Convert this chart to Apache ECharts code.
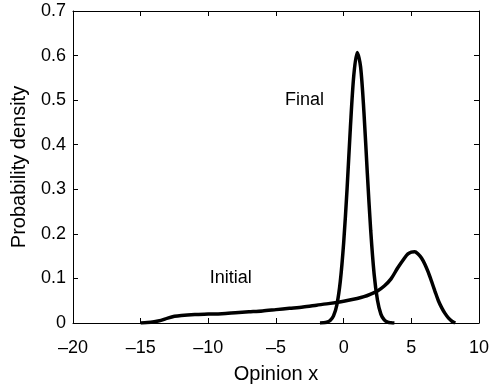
<!DOCTYPE html>
<html>
<head>
<meta charset="utf-8">
<script src="https://cdn.jsdelivr.net/npm/echarts@6/dist/echarts.min.js"></script>
<style>
  html, body { margin: 0; padding: 0; background: #fff; }
  #chart { width: 492px; height: 389px; }
</style>
</head>
<body>
<div id="chart"></div>
<script>
// opinion densities: [x, density]
var initialX = [-15, -14.5, -14, -13.5, -13, -12.5, -12, -11, -10, -9, -8, -7, -6, -5, -4, -3, -2, -1, 0, 1, 1.5, 2, 2.5, 3, 3.5, 4, 4.5, 4.75, 5, 5.25, 5.5, 5.75, 6, 6.25, 6.5, 6.75, 7, 7.25, 7.5, 7.75, 8, 8.25]
var initialY = [0, 0.001, 0.003, 0.006, 0.011, 0.015, 0.017, 0.019, 0.020, 0.021, 0.023, 0.025, 0.027, 0.030, 0.033, 0.036, 0.040, 0.044, 0.049, 0.055, 0.059, 0.065, 0.072, 0.083, 0.099, 0.124, 0.146, 0.155, 0.159, 0.160, 0.155, 0.146, 0.132, 0.114, 0.093, 0.071, 0.050, 0.034, 0.021, 0.011, 0.004, 0]

var finalX = [-1.75, -1.5, -1.25, -1, -0.75, -0.5, -0.25, 0, 0.25, 0.5, 0.75, 1, 1.25, 1.5, 1.75, 2, 2.25, 2.5, 2.75, 3, 3.25, 3.5, 3.75]
var finalY = [0, 0.0004, 0.0016, 0.0054, 0.016, 0.041, 0.093, 0.18, 0.30, 0.44, 0.556, 0.607, 0.575, 0.472, 0.335, 0.207, 0.11, 0.051, 0.020, 0.007, 0.002, 0.0006, 0]

var xTicks = [-20, -15, -10, -5, 0, 5, 10]
var yTicks = [0, 0.1, 0.2, 0.3, 0.4, 0.5, 0.6, 0.7]

var annoText = ['Final', 'Initial']
var annoX = [-2.9, -8.35]
var annoY = [0.5, 0.1]

function pairs(xs, ys) {
  return xs.map(function(x, i) { return [x, ys[i]] })
}

var font = 'Liberation Sans, Arial, Helvetica, sans-serif'

function fmtX(v) {
  return String(v).replace('-', '\u2013')
}

var chart = echarts.init(document.getElementById('chart'))

var axisCommon = {
  axisLine: { show: true, onZero: false, lineStyle: { color: '#000', width: 1 } },
  axisTick: { show: true, inside: true, length: 5, lineStyle: { color: '#000' } },
  splitLine: { show: false }
}

chart.setOption({
  animation: false,
  grid: { left: 73, right: 11, top: 11, bottom: 65 },
  xAxis: [
    Object.assign({
      type: 'value',
      min: xTicks[0],
      max: xTicks[xTicks.length - 1],
      interval: 5,
      name: 'Opinion x',
      nameLocation: 'middle',
      nameGap: 41,
      nameTextStyle: { fontFamily: font, fontSize: 20, color: '#000' },
      axisLabel: { fontFamily: font, fontSize: 18, color: '#000', margin: 16, formatter: fmtX }
    }, axisCommon),
    Object.assign({
      type: 'value',
      position: 'top',
      min: xTicks[0],
      max: xTicks[xTicks.length - 1],
      interval: 5,
      axisLabel: { show: false }
    }, axisCommon)
  ],
  yAxis: [
    Object.assign({
      type: 'value',
      min: yTicks[0],
      max: yTicks[yTicks.length - 1],
      interval: 0.1,
      name: 'Probability density',
      nameLocation: 'middle',
      nameGap: 44,
      nameTextStyle: { fontFamily: font, fontSize: 20, color: '#000' },
      axisLabel: { fontFamily: font, fontSize: 18, color: '#000', margin: 7 }
    }, axisCommon),
    Object.assign({
      type: 'value',
      position: 'right',
      min: yTicks[0],
      max: yTicks[yTicks.length - 1],
      interval: 0.1,
      axisLabel: { show: false }
    }, axisCommon)
  ],
  series: [
    {
      name: 'Initial',
      type: 'line',
      data: pairs(initialX, initialY),
      showSymbol: false,
      smooth: 0.3,
      lineStyle: { color: '#000', width: 3.5 }
    },
    {
      name: 'Final',
      type: 'line',
      data: pairs(finalX, finalY),
      showSymbol: false,
      smooth: 0.3,
      lineStyle: { color: '#000', width: 3.5 }
    },
    {
      type: 'scatter',
      symbolSize: 0,
      silent: true,
      itemStyle: { opacity: 1 },
      data: annoText.map(function(t, i) { return { name: t, value: [annoX[i], annoY[i]] } }),
      label: {
        show: true,
        position: 'inside',
        formatter: '{b}',
        fontFamily: font,
        fontSize: 18,
        color: '#000'
      }
    }
  ]
})
</script>
</body>
</html>
